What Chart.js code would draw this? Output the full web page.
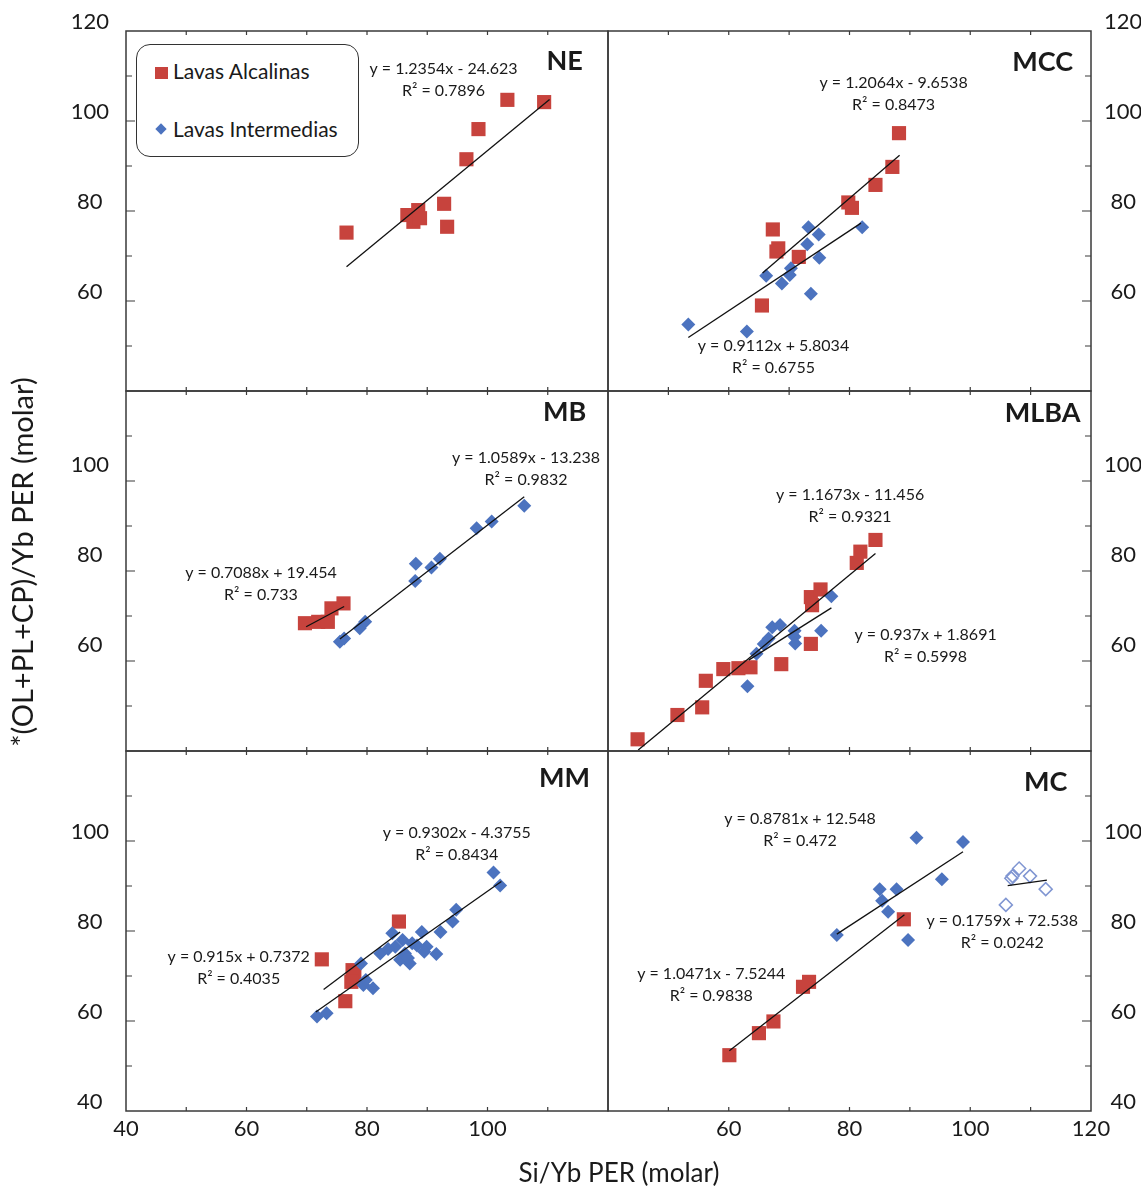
<!DOCTYPE html>
<html>
<head>
<meta charset="utf-8">
<script src="https://cdn.jsdelivr.net/npm/chart.js@4.4.1/dist/chart.umd.min.js"></script>
<style>
  html, body { margin: 0; padding: 0; background: #fff; }
  #wrap { position: relative; width: 1147px; height: 1188px; font-family: Lato, sans-serif; color: #1a1a1a; }
  #wrap canvas { position: absolute; left: 0; top: 0; }
  .legend { position: absolute; left: 136px; top: 44px; width: 223px; height: 113px; box-sizing: border-box;
    border: 1.5px solid #333; border-radius: 14px; background: #fff; z-index: 1; }
  .legend .txt { position: absolute; left: 36px; font-size: 21px; line-height: 22px; white-space: nowrap; }
  .legend .sq { position: absolute; left: 18px; top: 22px; width: 13px; height: 12px; background: #C7433D; }
  .legend .dm { position: absolute; left: 20px; top: 80px; width: 8px; height: 8px; background: #4C73BF; transform: rotate(45deg); }
  .xtitle { position: absolute; left: 419px; top: 1158px; width: 400px; text-align: center; font-size: 26px; line-height: 28px; }
  .ytitle { position: absolute; left: -228px; top: 547px; width: 500px; height: 30px; text-align: center; font-size: 29px; line-height: 30px;
    transform: rotate(-90deg); transform-origin: 50% 50%; white-space: nowrap; }
</style>
</head>
<body>
<div id="wrap">
  <canvas id="cNE" width="1147" height="1188"></canvas>
  <canvas id="cMCC" width="1147" height="1188"></canvas>
  <canvas id="cMB" width="1147" height="1188"></canvas>
  <canvas id="cMLBA" width="1147" height="1188"></canvas>
  <canvas id="cMM" width="1147" height="1188"></canvas>
  <canvas id="cMC" width="1147" height="1188"></canvas>
  <div class="legend">
    <div class="sq"></div><div class="txt" style="top:15px">Lavas Alcalinas</div>
    <div class="dm"></div><div class="txt" style="top:73px">Lavas Intermedias</div>
  </div>
  <div class="xtitle">Si/Yb PER (molar)</div>
  <div class="ytitle">*(OL+PL+CP)/Yb PER (molar)</div>
</div>
<script>
// [Si/Yb, (OL+PL+CP)/Yb] pairs
const neAlk = [[76.6, 75.2], [86.7, 79.1], [87.7, 77.6], [88.5, 80.2], [88.8, 78.4], [92.8, 81.6], [93.3, 76.5],
  [96.5, 91.5], [98.5, 98.2], [103.3, 104.7], [109.4, 104.2]];
const neAlkFit = [[76.6, 67.6], [110.3, 104.8]];

const mccAlk = [[88.2, 97.3], [87.1, 89.8], [84.3, 85.8], [79.8, 81.9], [80.4, 80.7], [67.3, 75.9], [68.2, 71.7],
  [67.9, 71.0], [71.6, 69.8], [65.5, 59.0]];
const mccInt = [[53.3, 54.8], [63.0, 53.2], [66.2, 65.6], [68.8, 63.9], [70.1, 65.8], [70.3, 67.3], [73.2, 76.4],
  [74.9, 74.8], [73.0, 72.6], [75.0, 69.6], [73.6, 61.6], [82.1, 76.4]];
const mccAlkFit = [[65.6, 66.2], [88.3, 92.4]];
const mccIntFit = [[53.3, 51.9], [81.9, 77.3]];

const mbAlk = [[69.7, 68.4], [71.9, 68.7], [73.5, 68.7], [74.1, 71.7], [76.1, 72.8]];
const mbInt = [[75.5, 64.3], [76.2, 65.0], [78.8, 67.3], [79.7, 68.7], [88.0, 77.8], [88.1, 81.6], [90.7, 80.8],
  [92.1, 82.7], [98.2, 89.5], [100.7, 91.0], [106.1, 94.5]];
const mbAlkFit = [[69.9, 67.6], [76.2, 72.1]];
const mbIntFit = [[75.5, 64.9], [106.1, 96.5]];

const mlbaAlk = [[44.9, 42.6], [51.5, 48.0], [55.6, 49.7], [56.2, 55.6], [59.1, 58.2], [61.6, 58.4], [63.6, 58.6],
  [68.7, 59.3], [73.6, 63.8], [73.8, 72.4], [73.6, 74.2], [75.2, 75.9], [81.2, 81.8], [81.8, 84.3], [84.3, 86.9]];
const mlbaInt = [[63.1, 54.4], [64.6, 61.6], [65.8, 63.8], [66.6, 65.0], [67.2, 67.5], [68.5, 68.0], [70.9, 66.7],
  [70.9, 65.4], [71.0, 63.9], [75.3, 66.7], [77.0, 74.4]];
const mlbaAlkFit = [[45.0, 40.2], [84.3, 83.9]];
const mlbaIntFit = [[63.3, 60.2], [77.0, 71.8]];

const mmAlk = [[72.5, 73.7], [85.3, 82.1], [77.6, 71.3], [77.9, 70.2], [77.4, 68.7], [76.4, 64.4]];
const mmInt = [[71.7, 61.0], [73.3, 61.7], [79.0, 72.8], [79.4, 68.0], [81.0, 67.3], [79.8, 69.1], [82.2, 75.0],
  [84.2, 79.5], [84.7, 76.5], [85.9, 78.0], [86.3, 75.0], [85.5, 73.6], [87.1, 72.8], [87.5, 77.3], [89.1, 79.8],
  [89.9, 76.5], [89.5, 75.4], [91.5, 74.9], [92.2, 79.8], [94.2, 82.1], [94.8, 84.7], [101.0, 93.0], [102.1, 90.1],
  [83.5, 76.0], [86.8, 74.0], [88.3, 76.8]];
const mmAlkFit = [[72.8, 67.0], [85.5, 79.8]];
const mmIntFit = [[71.5, 62.0], [102.3, 91.0]];

const mcAlk = [[60.1, 52.4], [65.0, 57.3], [67.4, 59.9], [72.3, 67.6], [73.3, 68.7], [89.0, 82.6]];
const mcInt = [[77.9, 79.1], [85.0, 89.3], [85.4, 86.7], [86.4, 84.3], [87.8, 89.3], [89.7, 78.0], [91.1, 100.7],
  [95.3, 91.5], [98.8, 99.8]];
const mcOpen = [[105.9, 85.8], [106.8, 91.7], [107.0, 92.2], [108.1, 93.9], [109.9, 92.2], [112.5, 89.3]];
const mcAlkFit = [[60.1, 53.4], [89.1, 83.6]];
const mcIntFit = [[77.9, 79.3], [98.8, 97.6]];
const mcOpenFit = [[106.2, 90.1], [112.7, 91.3]];

const axisMin = 40, axisMax = 120;

const RED = '#C7433D', BLUE = '#4C73BF', OPEN = '#8096D2';
const TXT = '#1a1a1a';
const tickFont = { family: 'Lato', size: 22 };
// room kept outside each plot box for tick labels
const LEFT_W = 80, RIGHT_W = 50, BOTTOM_H = 40;

const pts = arr => arr.map(([x, y]) => ({ x, y }));

// frame, inner tick marks, equations and panel name
const panelDeco = {
  id: 'panelDeco',
  afterDatasetsDraw(chart, args, o) {
    const { ctx, chartArea: a, scales: { x, y } } = chart;
    ctx.save();
    ctx.strokeStyle = '#3a3a3a';
    ctx.lineWidth = 1.5;
    ctx.strokeRect(a.left, a.top, a.width, a.height);
    ctx.lineWidth = 1.2;
    ctx.beginPath();
    for (let v = 50; v < 120; v += 10) {
      const py = y.getPixelForValue(v);
      const len = v % 20 === 0 ? 9 : 6;
      if (o.side === 'left') { ctx.moveTo(a.left, py); ctx.lineTo(a.left + len, py); }
      else { ctx.moveTo(a.right, py); ctx.lineTo(a.right - len, py); }
      const px = x.getPixelForValue(v);
      ctx.moveTo(px, a.top); ctx.lineTo(px, a.top + 4);
      ctx.moveTo(px, a.bottom); ctx.lineTo(px, a.bottom - 4);
    }
    ctx.stroke();
    ctx.fillStyle = TXT;
    ctx.textAlign = 'center';
    ctx.textBaseline = 'middle';
    ctx.font = '16px Lato';
    for (const n of o.notes) {
      const px = x.getPixelForValue(n.x), py = y.getPixelForValue(n.y);
      n.lines.forEach((t, i) => ctx.fillText(t, px, py + i * 22));
    }
    ctx.font = 'bold 27px Lato';
    ctx.fillText(o.title.text, x.getPixelForValue(o.title.x), y.getPixelForValue(o.title.y));
    ctx.restore();
  }
};

function makePanel(p) {
  const [l, t, r, b] = p.box;
  const datasets = [];
  if (p.alk) datasets.push({ data: pts(p.alk), pointStyle: 'rect', pointRadius: 10, backgroundColor: RED, borderWidth: 0, order: 3 });
  if (p.int) datasets.push({ data: pts(p.int), pointStyle: 'rectRot', pointRadius: 7, backgroundColor: BLUE, borderWidth: 0, order: 2 });
  if (p.open) datasets.push({ data: pts(p.open), pointStyle: 'rectRot', pointRadius: 6.5, backgroundColor: 'rgba(255,255,255,0)', borderColor: OPEN, borderWidth: 1.5, order: 2 });
  for (const f of p.fits) datasets.push({ data: pts(f), showLine: true, pointRadius: 0, borderColor: '#111', borderWidth: 1.3, fill: false, order: 0 });

  const yW = p.side === 'left' ? LEFT_W : RIGHT_W;
  const xH = p.xLabels ? BOTTOM_H : 0;
  const pad = {
    left: p.side === 'left' ? l - yW : l,
    right: p.side === 'right' ? 1147 - r - yW : 1147 - r,
    top: t,
    bottom: 1188 - b - xH
  };

  new Chart(document.getElementById(p.id), {
    type: 'scatter',
    data: { datasets },
    options: {
      responsive: false, animation: false, events: [],
      layout: { padding: pad },
      plugins: { legend: { display: false }, tooltip: { enabled: false }, panelDeco: { side: p.side, notes: p.notes, title: p.title } },
      scales: {
        x: {
          type: 'linear', min: axisMin, max: axisMax, display: !!p.xLabels, position: 'bottom',
          afterFit: s => { s.height = xH; },
          grid: { display: false, drawTicks: false }, border: { display: false },
          ticks: { stepSize: 20, autoSkip: false, maxRotation: 0, padding: 5, font: tickFont, color: TXT,
            callback: v => (p.xLabels && p.xLabels.includes(v) ? String(v) : '') }
        },
        y: {
          type: 'linear', min: axisMin, max: axisMax, position: p.side,
          afterFit: s => { s.width = yW; },
          grid: { display: false, drawTicks: false }, border: { display: false },
          ticks: { stepSize: 20, autoSkip: false, crossAlign: 'center', padding: p.side === 'left' ? 17 : 13,
            labelOffset: p.labelOffset, font: tickFont, color: TXT,
            callback: v => (p.yLabels.includes(v) ? String(v) : '') }
        }
      }
    },
    plugins: [panelDeco]
  });
}

[
  { id: 'cNE', box: [126, 31, 608, 391], side: 'left', yLabels: [60, 80, 100, 120], labelOffset: -9,
    alk: neAlk, fits: [neAlkFit],
    notes: [{ x: 92.7, y: 111.5, lines: ['y = 1.2354x - 24.623', 'R\u00B2 = 0.7896'] }],
    title: { x: 112.8, y: 113.2, text: 'NE' } },
  { id: 'cMCC', box: [608, 31, 1091, 391], side: 'right', yLabels: [60, 80, 100, 120], labelOffset: -9,
    alk: mccAlk, int: mccInt, fits: [mccAlkFit, mccIntFit],
    notes: [{ x: 87.3, y: 108.5, lines: ['y = 1.2064x - 9.6538', 'R\u00B2 = 0.8473'] },
            { x: 67.4, y: 50.0, lines: ['y = 0.9112x + 5.8034', 'R\u00B2 = 0.6755'] }],
    title: { x: 112.0, y: 113.1, text: 'MCC' } },
  { id: 'cMB', box: [126, 391, 608, 751], side: 'left', yLabels: [60, 80, 100], labelOffset: -16,
    alk: mbAlk, int: mbInt, fits: [mbAlkFit, mbIntFit],
    notes: [{ x: 106.4, y: 105.1, lines: ['y = 1.0589x - 13.238', 'R\u00B2 = 0.9832'] },
            { x: 62.4, y: 79.6, lines: ['y = 0.7088x + 19.454', 'R\u00B2 = 0.733'] }],
    title: { x: 112.8, y: 115.3, text: 'MB' } },
  { id: 'cMLBA', box: [608, 391, 1091, 751], side: 'right', yLabels: [60, 80, 100], labelOffset: -16,
    alk: mlbaAlk, int: mlbaInt, fits: [mlbaAlkFit, mlbaIntFit],
    notes: [{ x: 80.1, y: 96.9, lines: ['y = 1.1673x - 11.456', 'R\u00B2 = 0.9321'] },
            { x: 92.6, y: 65.8, lines: ['y = 0.937x + 1.8691', 'R\u00B2 = 0.5998'] }],
    title: { x: 112.0, y: 115.0, text: 'MLBA' } },
  { id: 'cMM', box: [126, 751, 608, 1111], side: 'left', yLabels: [40, 60, 80, 100], labelOffset: -9,
    xLabels: [40, 60, 80, 100],
    alk: mmAlk, int: mmInt, fits: [mmAlkFit, mmIntFit],
    notes: [{ x: 94.9, y: 101.8, lines: ['y = 0.9302x - 4.3755', 'R\u00B2 = 0.8434'] },
            { x: 58.7, y: 74.2, lines: ['y = 0.915x + 0.7372', 'R\u00B2 = 0.4035'] }],
    title: { x: 112.8, y: 114.0, text: 'MM' } },
  { id: 'cMC', box: [608, 751, 1091, 1111], side: 'right', yLabels: [40, 60, 80, 100], labelOffset: -9,
    xLabels: [60, 80, 100, 120],
    alk: mcAlk, int: mcInt, open: mcOpen, fits: [mcAlkFit, mcIntFit, mcOpenFit],
    notes: [{ x: 71.8, y: 104.9, lines: ['y = 0.8781x + 12.548', 'R\u00B2 = 0.472'] },
            { x: 57.1, y: 70.4, lines: ['y = 1.0471x - 7.5244', 'R\u00B2 = 0.9838'] },
            { x: 105.3, y: 82.2, lines: ['y = 0.1759x + 72.538', 'R\u00B2 = 0.0242'] }],
    title: { x: 112.5, y: 113.0, text: 'MC' } }
].forEach(makePanel);
</script>
</body>
</html>
